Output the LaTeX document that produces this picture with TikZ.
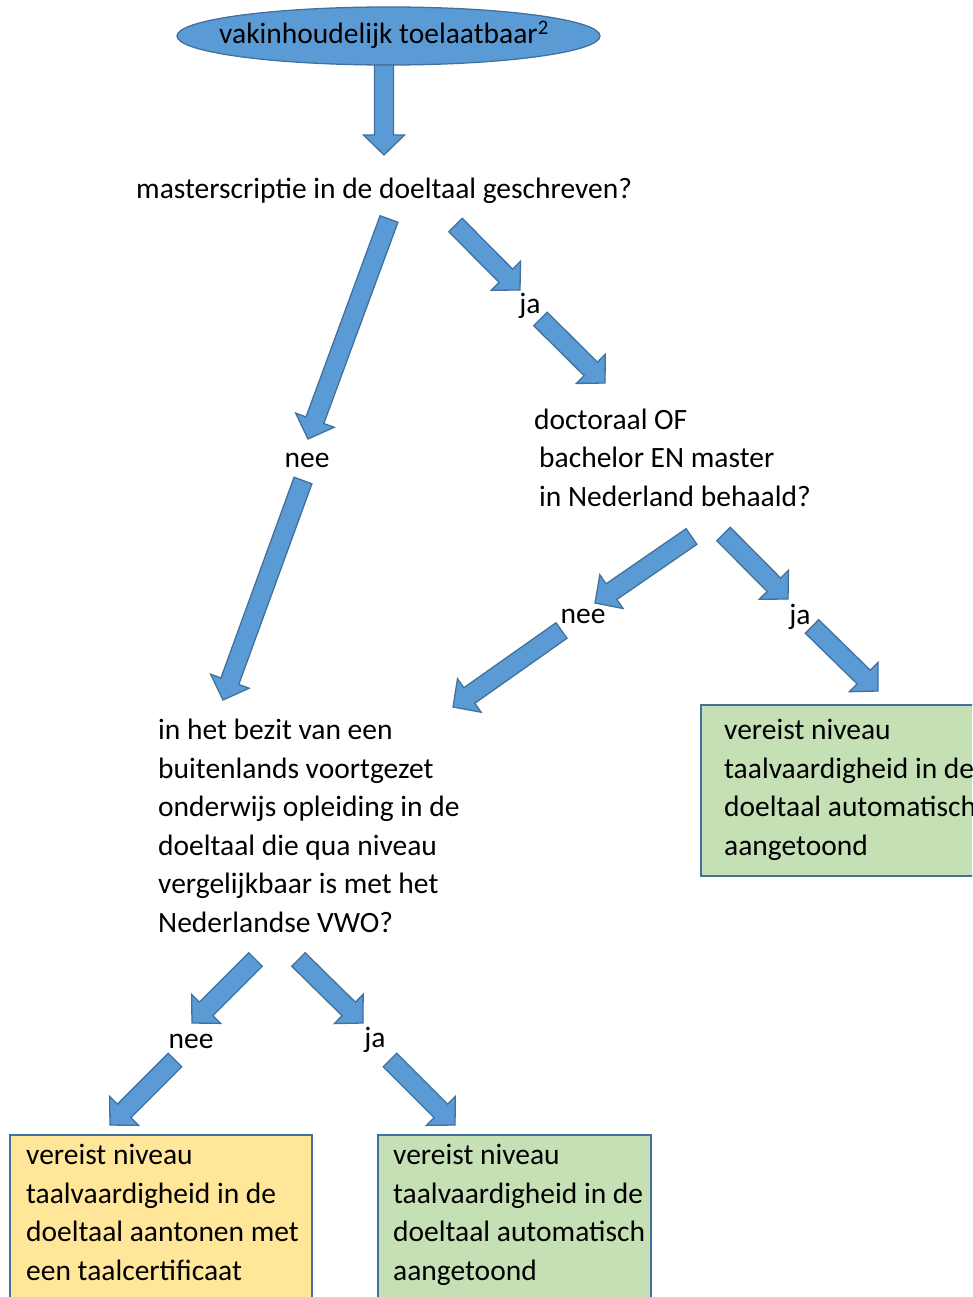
\documentclass[tikz,border=0pt]{standalone}
\usepackage{fontspec}
\setmainfont{Carlito}
\usetikzlibrary{calc,shapes.geometric}
\definecolor{arrowblue}{HTML}{5B9BD5}
\definecolor{borderblue}{HTML}{41719C}
\definecolor{boxgreen}{HTML}{C5E0B4}
\definecolor{boxyellow}{HTML}{FFE699}
\newcommand\basw{9.5pt}
\newcommand\bahw{20.5pt}
\newcommand\bahl{20pt}
\newcommand\blockarrow[2]{%
  \coordinate (bahead) at ($(#2)!\bahl!(#1)$);
  \draw[barrow] ($(#1)!\basw!90:(#2)$) -- ($(bahead)!\basw!90:(#2)$) -- ($(bahead)!\bahw!90:(#2)$) -- (#2)
    -- ($(bahead)!\bahw!-90:(#2)$) -- ($(bahead)!\basw!-90:(#2)$) -- ($(#1)!\basw!-90:(#2)$) -- cycle;}
\begin{document}
\begin{tikzpicture}[x=1pt,y=-1pt,
  barrow/.style={fill=arrowblue, draw=borderblue, line width=1.3pt, line join=miter},
  txt/.style={inner sep=0pt, anchor=base west, align=left, font=\fontsize{29.5}{38.5}\selectfont},
  lbl/.style={inner sep=0pt, anchor=base, font=\fontsize{29.5}{38.5}\selectfont},
  boxst/.style={draw=borderblue, line width=2pt, anchor=north west, inner sep=0pt}]
\useasboundingbox (0,0) rectangle (972,1297);
\clip (0,0) rectangle (972,1297);
% top ellipse
\node[ellipse, fill=arrowblue, draw=borderblue, line width=1.3pt, minimum width=423pt, minimum height=58pt, inner sep=0pt] (start) at (388.5,36) {};
\node[lbl] (starttext) at (384,44) {vakinhoudelijk toelaatbaar\textsuperscript{2}};
% questions (anchor = baseline of last line)
\node[txt] (q1) at (136,199) {masterscriptie in de doeltaal geschreven?};
\node[txt] (q2) at (534,506) {doctoraal OF\\\hspace*{5pt}bachelor EN master\\\hspace*{5pt}in Nederland behaald?};
\node[txt] (q3) at (158,932) {in het bezit van een\\buitenlands voortgezet\\onderwijs opleiding in de\\doeltaal die qua niveau\\vergelijkbaar is met het\\Nederlandse VWO?};
% boxes
\node[boxst, fill=boxgreen, minimum width=320pt, minimum height=171pt] (b1) at (700,704) {};
\node[boxst, fill=boxyellow, minimum width=302pt, minimum height=190pt] (b2) at (9,1134) {};
\node[boxst, fill=boxgreen, minimum width=273pt, minimum height=190pt] (b3) at (377,1134) {};
\node[txt] (t1) at (724,855) {vereist niveau\\taalvaardigheid in de\\doeltaal automatisch\\aangetoond};
\node[txt] (t2) at (26,1280) {vereist niveau\\taalvaardigheid in de\\doeltaal aantonen met\\een taalcertificaat};
\node[txt] (t3) at (393,1280) {vereist niveau\\taalvaardigheid in de\\doeltaal automatisch\\aangetoond};
% labels
\node[lbl] (nee1) at (307,467) {nee};
\node[lbl] (ja1) at (530,313) {ja};
\node[lbl] (nee2) at (583,623) {nee};
\node[lbl] (ja2) at (800,624) {ja};
\node[lbl] (nee3) at (191,1048) {nee};
\node[lbl] (ja3) at (375,1047) {ja};
% arrow end points
\coordinate (a1s) at (384,65);    \coordinate (a1e) at (384,155);
\coordinate (a2s) at (389,219);   \coordinate (a2e) at (308,439);
\coordinate (a3s) at (455.5,225); \coordinate (a3e) at (520,290);
\coordinate (a4s) at (540.5,319); \coordinate (a4e) at (605,383);
\coordinate (a5s) at (303,480.5); \coordinate (a5e) at (223,700);
\coordinate (a6s) at (691.5,536.5); \coordinate (a6e) at (595,603);
\coordinate (a7s) at (561.5,630.5); \coordinate (a7e) at (453,707);
\coordinate (a8s) at (723.5,534); \coordinate (a8e) at (788,599);
\coordinate (a9s) at (812,626.5); \coordinate (a9e) at (878,691);
\coordinate (a10s) at (255.5,959.5); \coordinate (a10e) at (192,1023);
\coordinate (a11s) at (175,1060); \coordinate (a11e) at (110,1125);
\coordinate (a12s) at (298.5,959.5); \coordinate (a12e) at (363,1023);
\coordinate (a13s) at (390,1060); \coordinate (a13e) at (455,1125);
\blockarrow{a1s}{a1e}
\blockarrow{a2s}{a2e}
\blockarrow{a3s}{a3e}
\blockarrow{a4s}{a4e}
\blockarrow{a5s}{a5e}
\blockarrow{a6s}{a6e}
\blockarrow{a7s}{a7e}
\blockarrow{a8s}{a8e}
\blockarrow{a9s}{a9e}
\blockarrow{a10s}{a10e}
\blockarrow{a11s}{a11e}
\blockarrow{a12s}{a12e}
\blockarrow{a13s}{a13e}
\end{tikzpicture}
\end{document}
